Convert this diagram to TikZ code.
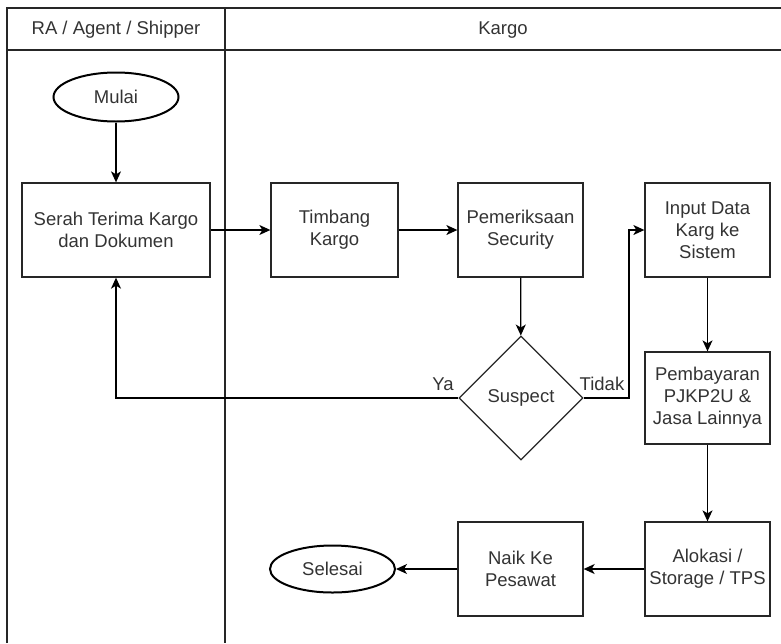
\documentclass[tikz,border=0pt]{standalone}
\usepackage{fontspec}
\setmainfont{Liberation Sans}
\usetikzlibrary{arrows.meta,shapes.geometric}
\definecolor{txt}{HTML}{333333}
\begin{document}
\begin{tikzpicture}[x=1pt,y=-1pt,
  lane/.style={line width=1.3pt,draw=black!85},
  proc/.style={draw=black!85,line width=1.3pt,minimum width=125pt,minimum height=94pt,inner sep=0pt,align=center,text=txt,font=\fontsize{18.5}{22}\selectfont},
  term/.style={draw=black,line width=2pt,ellipse,minimum width=125pt,minimum height=48pt,inner sep=0pt,text=txt,font=\fontsize{18.5}{22}\selectfont},
  dec/.style={draw=black!85,line width=1.3pt,diamond,minimum width=124pt,minimum height=124pt,inner sep=0pt,text=txt,font=\fontsize{18.5}{22}\selectfont},
  lbl/.style={text=txt,font=\fontsize{18.5}{22}\selectfont,inner sep=0pt},
  conn/.style={line width=1.3pt,draw=black,-{Stealth[length=11pt,width=10pt,inset=3pt]}}]
\useasboundingbox (0,0) rectangle (781,643);
% swimlanes
\draw[lane] (7,643) -- (7,8) -- (781,8);
\draw[lane] (7,50) -- (781,50);
\draw[lane] (225,8) -- (225,643);
\node[lbl] (h1) at (116,30) {RA / Agent / Shipper};
\node[lbl] (h2) at (503,30) {Kargo};
% nodes
\node[term,minimum width=125pt,minimum height=49pt] (mulai) at (116,97) {Mulai};
\node[proc,minimum width=188pt] (serah) at (116,230) {Serah Terima Kargo\\dan Dokumen};
\node[proc,minimum width=127pt] (timbang) at (334.5,230) {Timbang\\Kargo};
\node[proc] (periksa) at (520.5,230) {Pemeriksaan\\Security};
\node[proc] (input) at (707.5,230) {Input Data\\Karg ke\\Sistem};
\node[dec] (suspect) at (521,398) {Suspect};
\node[proc,minimum height=92pt] (bayar) at (707.5,398) {Pembayaran\\PJKP2U \&\\Jasa Lainnya};
\node[proc] (alokasi) at (707.5,569) {Alokasi /\\Storage / TPS};
\node[proc] (naik) at (520.5,569) {Naik Ke\\Pesawat};
\node[term,minimum height=47pt] (selesai) at (332.5,569) {Selesai};
% connectors
\draw[conn] (mulai) -- (serah);
\draw[conn] (serah) -- (timbang);
\draw[conn] (timbang) -- (periksa);
\draw[conn] (periksa) -- (suspect);
\draw[conn] (suspect.east) -- (629,398) -- (629,230) -- (input.west);
\draw[conn] (suspect.west) -| (serah.south);
\draw[conn] (input) -- (bayar);
\draw[conn] (bayar) -- (alokasi);
\draw[conn] (alokasi) -- (naik);
\draw[conn] (naik) -- (selesai);
\node[lbl] (ya) at (443,384) {Ya};
\node[lbl] (tidak) at (602,384) {Tidak};
\end{tikzpicture}
\end{document}
